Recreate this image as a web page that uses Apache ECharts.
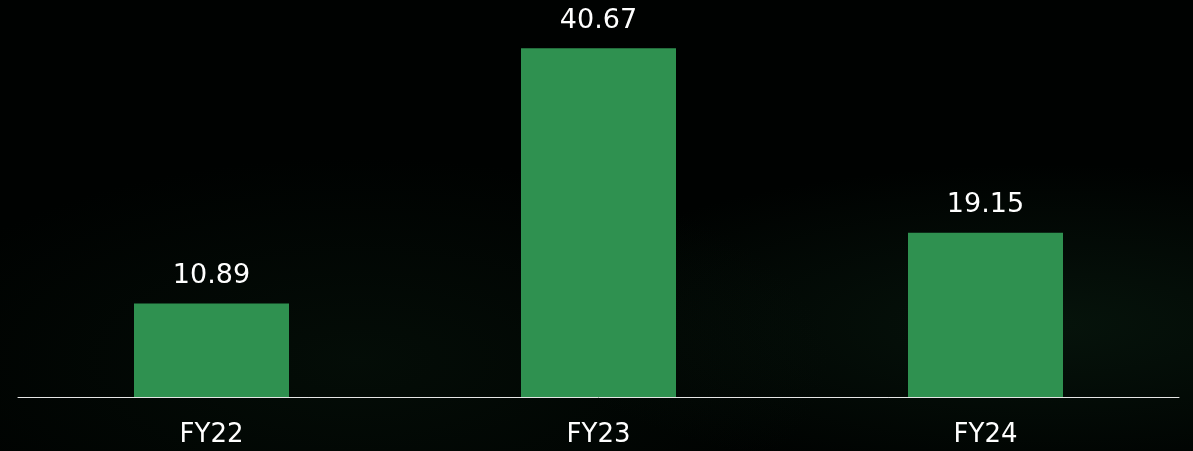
<!doctype html>
<html>
 <head>
  <meta charset="UTF-8">
  <script src="https://cdn.jsdelivr.net/npm/echarts@6/dist/echarts.min.js"></script>
  <title>FY values</title>
  <style>
   html, body { margin: 0; padding: 0; }
   body {
     background: #000201;
     background-image:
       radial-gradient(ellipse at 30% 80%, rgba(15,45,25,0.25), rgba(0,0,0,0) 40%),
       radial-gradient(ellipse at 88% 72%, rgba(20,60,35,0.3), rgba(0,0,0,0) 35%);
   }
  </style>
 </head>
 <script type="text/javascript">
    var years = ['FY22', 'FY23', 'FY24'];
    var values = [10.89, 40.67, 19.15];

 	var loadData = function() {
 		var myChart = echarts.init(document.getElementById('chart'));
 		myChart.setOption({
 		    backgroundColor: 'transparent',
 		    animation: false,
 		    grid: { left: 18, right: 14, top: 11, bottom: 54 },
 		    xAxis: {
 		        type: 'category',
 		        data: years,
 		        axisLine: { lineStyle: { color: '#e6e6e6', width: 1 } },
 		        axisTick: { show: false },
 		        axisLabel: { color: '#ffffff', fontSize: 26, fontFamily: 'DejaVu Sans', margin: 25 }
 		    },
 		    yAxis: {
 		        type: 'value',
 		        min: 0,
 		        max: 45,
 		        show: false,
 		        splitLine: { show: false }
 		    },
 		    series: [{
 		        type: 'bar',
 		        data: values,
 		        barWidth: 155,
 		        itemStyle: { color: '#2f9150' },
 		        label: {
 		            show: true,
 		            position: 'top',
 		            distance: 14,
 		            color: '#ffffff',
 		            fontSize: 27,
 		            fontFamily: 'DejaVu Sans',
 		            formatter: function (p) { return p.value.toFixed(2); }
 		        }
 		    }]
 		});
 	}
 </script>
 <body onload="loadData()">
  <div id="chart" style="height: 451px; width: 1193px; margin: 0"></div>
 </body>
</html>
